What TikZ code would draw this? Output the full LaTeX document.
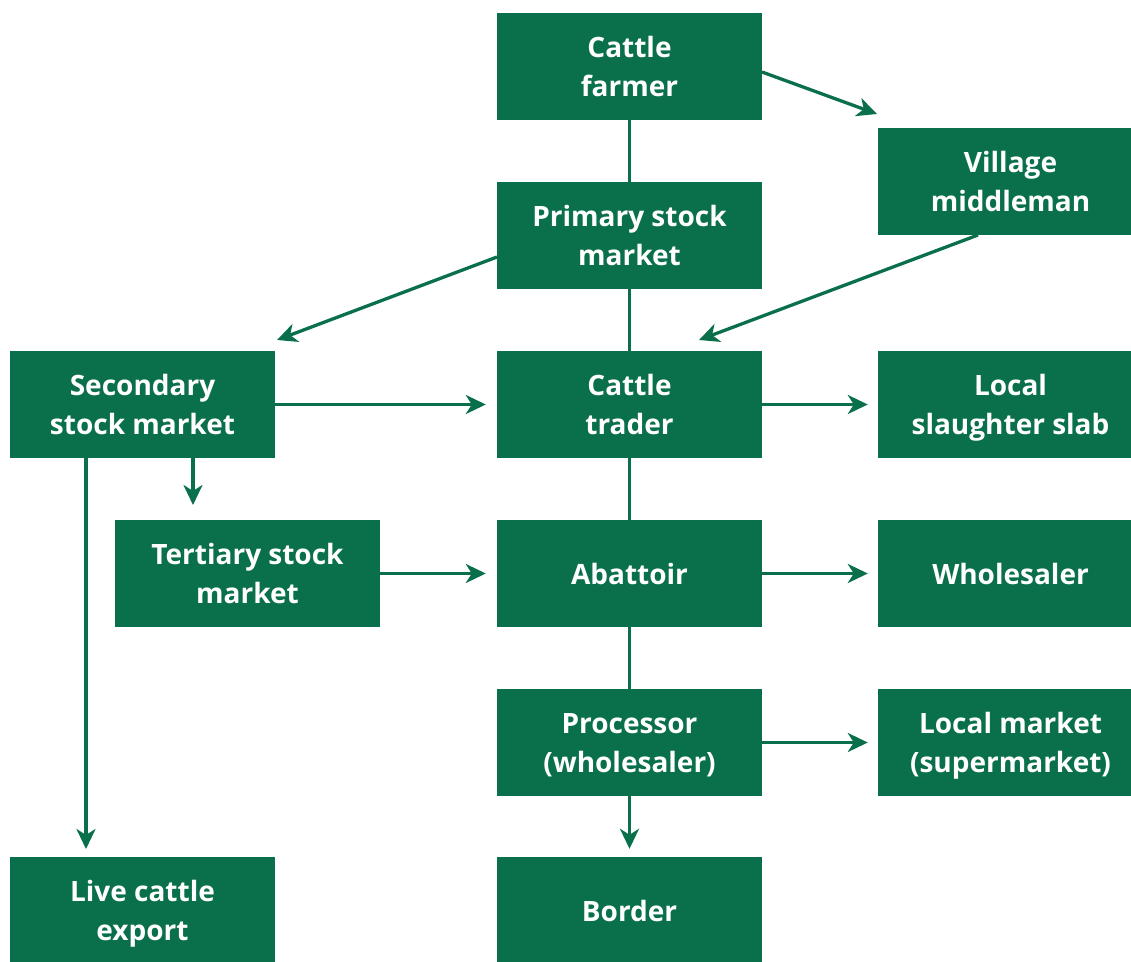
\documentclass[tikz,border=0pt]{standalone}
\usepackage{fontspec}
\setmainfont{Open Sans}
\usetikzlibrary{arrows.meta}
\definecolor{dg}{HTML}{0A704B}
\begin{document}
\begin{tikzpicture}[x=1pt,y=-1pt,
  box/.style={fill=dg, text=white, draw=none, minimum width=265pt, minimum height=107pt,
    inner sep=0pt, align=center, text depth=0pt, font=\fontsize{28}{39}\selectfont\bfseries},
  link/.style={draw=dg, line width=3.3pt},
  arr/.style={link, -{Stealth[length=20pt,width=19pt,inset=6pt]}}]
\useasboundingbox (0,0) rectangle (1131,961);
\node[box] (farmer) at (629.5,66.5) {Cattle\\farmer};
\node[box] (middle) at (1010.5,181.5) {Village\\middleman};
\node[box] (primary) at (629.5,235.5) {Primary stock\\market};
\node[box] (secondary) at (142.5,404.5) {Secondary\\stock market};
\node[box] (trader) at (629.5,404.5) {Cattle\\trader};
\node[box] (slab) at (1010.5,404.5) {Local\\slaughter slab};
\node[box] (tertiary) at (247.5,573.5) {Tertiary stock\\market};
\node[box] (abattoir) at (629.5,573.5) {Abattoir};
\node[box] (wholesaler) at (1010.5,573.5) {Wholesaler};
\node[box] (processor) at (629.5,742.5) {Processor\\(wholesaler)};
\node[box] (localmkt) at (1010.5,742.5) {Local market\\(supermarket)};
\node[box] (export) at (142.5,910.5) {Live cattle\\export};
\node[box] (border) at (629.5,910.5) {Border};
% free ends
\coordinate (fmS) at (762,72);
\coordinate (fmE) at (877,114);
\coordinate (mtS) at (978,235);
\coordinate (mtE) at (699,340);
\coordinate (psS) at (497,257);
\coordinate (psE) at (277,340);
\coordinate (stS) at (193,458);
\coordinate (stE) at (193,505);
\coordinate (seS) at (86,458);
\coordinate (seE) at (86,849);
% vertical spine
\draw[link] (farmer.south) -- (primary.north);
\draw[link] (primary.south) -- (trader.north);
\draw[link] (trader.south) -- (abattoir.north);
\draw[link] (abattoir.south) -- (processor.north);
\draw[arr, shorten >=8pt] (processor.south) -- (border.north);
% diagonals
\draw[arr] (fmS) -- (fmE);
\draw[arr] (mtS) -- (mtE);
\draw[arr] (psS) -- (psE);
% horizontals
\draw[arr, shorten >=11pt] (secondary.east) -- (trader.west);
\draw[arr, shorten >=10pt] (trader.east) -- (slab.west);
\draw[arr, shorten >=11pt] (tertiary.east) -- (abattoir.west);
\draw[arr, shorten >=10pt] (abattoir.east) -- (wholesaler.west);
\draw[arr, shorten >=10pt] (processor.east) -- (localmkt.west);
% secondary downward
\draw[arr] (stS) -- (stE);
\draw[arr] (seS) -- (seE);
\end{tikzpicture}
\end{document}
